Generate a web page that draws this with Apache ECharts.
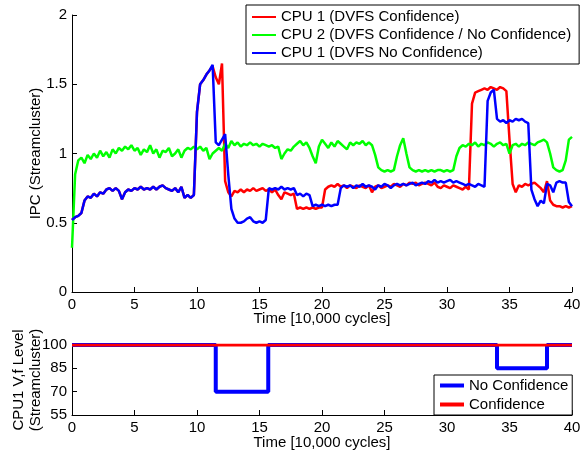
<!DOCTYPE html>
<html>
<head>
<meta charset="utf-8">
<script src="https://cdn.jsdelivr.net/npm/echarts@6/dist/echarts.min.js"></script>
<style>
  html, body { margin: 0; padding: 0; background: #fff; }
  #chart { width: 582px; height: 450px; }
</style>
</head>
<body>
<div id="chart"></div>
<script>
// sampling grid of the IPC traces: one value every 0.25 (x 10,000 cycles)
var times = [];
for (var i = 0; i <= 160; i++) {
    times.push(i / 4);
}

// IPC, CPU 1 with DVFS confidence (each row = one time unit)
var ipcCpu1Conf = [
    0.52, 0.54, 0.55, 0.57,
    0.66, 0.69, 0.68, 0.71,
    0.69, 0.72, 0.71, 0.74,
    0.75, 0.73, 0.75, 0.73,
    0.67, 0.72, 0.74, 0.73,
    0.75, 0.74, 0.76, 0.74,
    0.75, 0.74, 0.76, 0.74,
    0.76, 0.77, 0.75, 0.74,
    0.73, 0.75, 0.72, 0.76,
    0.68, 0.70, 0.68, 0.70,
    1.30, 1.50, 1.53, 1.57,
    1.60, 1.63, 1.55, 1.50,
    1.65, 0.80, 0.72, 0.69,
    0.73, 0.72, 0.74, 0.72,
    0.74, 0.73, 0.75, 0.73,
    0.74, 0.75, 0.73, 0.74,
    0.72, 0.74, 0.70, 0.67,
    0.72, 0.71, 0.70, 0.71,
    0.60, 0.61, 0.60, 0.61,
    0.60, 0.61, 0.60, 0.61,
    0.61, 0.74, 0.76, 0.77,
    0.76, 0.78, 0.76, 0.77,
    0.75, 0.77, 0.76, 0.75,
    0.77, 0.76, 0.75, 0.77,
    0.72, 0.76, 0.77, 0.75,
    0.76, 0.77, 0.76, 0.78,
    0.77, 0.76, 0.78, 0.77,
    0.79, 0.78, 0.79, 0.77,
    0.78, 0.79, 0.78, 0.77,
    0.79, 0.76, 0.75, 0.77,
    0.76, 0.75, 0.77, 0.76,
    0.75, 0.74, 0.76, 0.74,
    1.36, 1.44, 1.45, 1.46,
    1.47, 1.46, 1.48, 1.47,
    1.46, 1.48, 1.47, 1.45,
    1.10, 0.78, 0.72, 0.77,
    0.76, 0.78, 0.77, 0.78,
    0.79, 0.77, 0.75, 0.72,
    0.80, 0.66, 0.63, 0.62,
    0.62, 0.61, 0.62, 0.61,
    0.62
];

// IPC, CPU 2 (same in both runs)
var ipcCpu2 = [
    0.32, 0.85, 0.95, 0.97,
    0.93, 0.99, 0.96, 1.00,
    0.97, 1.02, 0.98, 1.01,
    0.97, 1.03, 1.00, 1.04,
    1.02, 1.05, 1.03, 1.06,
    1.02, 1.04, 0.99, 1.03,
    1.01, 1.06, 1.00, 1.03,
    0.97, 1.02, 1.01, 1.04,
    0.98, 1.00, 1.03, 0.97,
    1.02, 1.04, 1.03, 1.05,
    1.03, 1.05, 1.02, 1.04,
    0.96, 1.00, 1.02, 1.04,
    1.02, 1.07, 1.04, 1.09,
    1.06, 1.08, 1.05, 1.07,
    1.06, 1.08, 1.06, 1.07,
    1.05, 1.07, 1.06, 1.05,
    1.06, 1.04, 1.05, 0.96,
    1.00, 1.03, 1.02, 1.05,
    1.07, 1.09, 1.06, 1.08,
    1.04, 0.98, 0.93, 1.05,
    1.10, 1.07, 1.04, 1.08,
    1.05, 1.09, 1.07, 1.05,
    1.03, 1.08, 1.06, 1.08,
    1.07, 1.09, 1.06, 1.08,
    1.06, 0.99, 0.90, 0.88,
    0.87, 0.88, 0.87, 0.88,
    0.98, 1.06, 1.11, 1.00,
    0.90, 0.88, 0.87, 0.88,
    0.87, 0.88, 0.87, 0.88,
    0.87, 0.88, 0.88, 0.87,
    0.88, 0.87, 0.88, 0.98,
    1.04, 1.06, 1.05, 1.07,
    1.06, 1.08, 1.05, 1.07,
    1.06, 1.08, 1.07, 1.05,
    1.07, 1.08, 1.06, 1.07,
    1.00, 1.06, 1.07, 1.05,
    1.07, 1.06, 1.08, 1.07,
    1.06, 1.08, 1.09, 1.10,
    1.08, 1.00, 0.90, 0.88,
    0.87, 0.88, 0.95, 1.10,
    1.12
];

// IPC, CPU 1 without DVFS confidence
var ipcCpu1NoConf = [
    0.52, 0.54, 0.55, 0.57,
    0.66, 0.69, 0.68, 0.71,
    0.69, 0.72, 0.71, 0.74,
    0.75, 0.73, 0.75, 0.73,
    0.67, 0.72, 0.74, 0.73,
    0.75, 0.74, 0.76, 0.74,
    0.75, 0.74, 0.76, 0.74,
    0.76, 0.77, 0.75, 0.74,
    0.73, 0.75, 0.72, 0.76,
    0.68, 0.70, 0.68, 0.70,
    1.30, 1.50, 1.53, 1.57,
    1.60, 1.64, 1.08, 1.06,
    1.10, 1.14, 0.85, 0.60,
    0.53, 0.50, 0.50, 0.51,
    0.53, 0.54, 0.51, 0.50,
    0.51, 0.50, 0.52, 0.75,
    0.74, 0.75, 0.74, 0.76,
    0.74, 0.75, 0.74, 0.75,
    0.70, 0.71, 0.69, 0.71,
    0.70, 0.62, 0.63, 0.62,
    0.63, 0.62, 0.63, 0.62,
    0.63, 0.63, 0.75, 0.77,
    0.76, 0.77, 0.75, 0.77,
    0.76, 0.78, 0.76, 0.77,
    0.76, 0.74, 0.77, 0.76,
    0.78, 0.77, 0.75, 0.77,
    0.78, 0.77, 0.78, 0.77,
    0.78, 0.79, 0.77, 0.78,
    0.79, 0.78, 0.80, 0.79,
    0.81, 0.79, 0.80, 0.79,
    0.80, 0.81, 0.79, 0.80,
    0.79, 0.78, 0.77, 0.78,
    0.77, 0.76, 0.78, 0.77,
    0.76, 1.38, 1.44, 1.46,
    1.25, 1.23, 1.24, 1.22,
    1.24, 1.23, 1.25, 1.24,
    1.25, 1.23, 1.22, 0.74,
    0.67, 0.62, 0.66, 0.64,
    0.78, 0.77, 0.72, 0.79,
    0.80, 0.79, 0.79, 0.65,
    0.62
];

// CPU1 V,f level: change points and the level held from each one
var levelNoConfT = [0, 11.5, 15.7, 34, 38, 40];
var levelNoConf = [100, 70, 100, 85, 100, 100];
var levelConfT = [0, 40];
var levelConf = [100, 100];

var topNames = ['CPU 1 (DVFS Confidence)', 'CPU 2 (DVFS Confidence / No Confidence)', 'CPU 1 (DVFS No Confidence)'];
var bottomNames = ['No Confidence', 'Confidence'];
var xTicks = [0, 5, 10, 15, 20, 25, 30, 35, 40];
var levelTicks = [55, 70, 85, 100];

var font = '"Liberation Sans", Arial, Helvetica, sans-serif';

function pairs(xs, ys) {
    var out = [];
    for (var i = 0; i < ys.length; i++) {
        out.push([xs[i], ys[i]]);
    }
    return out;
}

function xAxisOf(grid, gap) {
    return {
        gridIndex: grid,
        type: 'value',
        min: 0,
        max: 40,
        interval: 5,
        name: 'Time [10,000 cycles]',
        nameLocation: 'middle',
        nameGap: gap,
        nameMoveOverlap: false,
        nameTextStyle: {fontSize: 15, color: '#000', fontFamily: font},
        axisLine: {onZero: false, lineStyle: {color: '#000', width: 1}},
        axisTick: {inside: true, length: 5, customValues: xTicks, lineStyle: {color: '#000'}},
        axisLabel: {fontSize: 15, color: '#000', margin: 5, fontFamily: font, customValues: xTicks},
        splitLine: {show: false}
    };
}

function lineSeries(name, color, data, width, xi) {
    return {
        name: name,
        type: 'line',
        xAxisIndex: xi,
        yAxisIndex: xi,
        data: data,
        symbol: 'none',
        showSymbol: false,
        lineStyle: {color: color, width: width},
        itemStyle: {color: color},
        emphasis: {disabled: true}
    };
}

var myChart = echarts.init(document.getElementById('chart'));

var option = {
    animation: false,
    textStyle: {fontFamily: font, color: '#000'},
    grid: [
        {left: 72, top: 15, width: 500, height: 277, containLabel: false, outerBoundsMode: 'none'},
        {left: 72, top: 345, width: 500, height: 70, containLabel: false, outerBoundsMode: 'none'}
    ],
    xAxis: [xAxisOf(0, 19), xAxisOf(1, 20)],
    yAxis: [{
        gridIndex: 0,
        type: 'value',
        min: 0,
        max: 2,
        interval: 0.5,
        name: 'IPC (Streamcluster)',
        nameLocation: 'middle',
        nameRotate: 90,
        nameGap: 29,
        nameMoveOverlap: false,
        nameTextStyle: {fontSize: 15, color: '#000', fontFamily: font},
        axisLine: {show: true, onZero: false, lineStyle: {color: '#000', width: 1}},
        axisTick: {show: true, inside: true, length: 5, lineStyle: {color: '#000'}},
        axisLabel: {fontSize: 15, color: '#000', margin: 5, fontFamily: font},
        splitLine: {show: false}
    }, {
        gridIndex: 1,
        type: 'value',
        min: 55,
        max: 100,
        name: 'CPU1 V,f Level\n(Streamcluster)',
        nameLocation: 'middle',
        nameRotate: 90,
        nameGap: 28,
        nameMoveOverlap: false,
        nameTextStyle: {fontSize: 15, color: '#000', fontFamily: font, lineHeight: 17},
        axisLine: {show: true, onZero: false, lineStyle: {color: '#000', width: 1}},
        axisTick: {show: true, inside: true, length: 5, customValues: levelTicks, lineStyle: {color: '#000'}},
        axisLabel: {fontSize: 15, color: '#000', margin: 5, fontFamily: font, customValues: levelTicks},
        splitLine: {show: false}
    }],
    legend: [{
        data: topNames,
        orient: 'vertical',
        left: 246,
        top: 5,
        padding: [3, 8, 2, 6],
        itemGap: 0,
        itemWidth: 24,
        itemHeight: 2,
        icon: 'rect',
        borderColor: '#000',
        borderWidth: 1,
        borderRadius: 0,
        backgroundColor: '#fff',
        selectedMode: false,
        textStyle: {fontSize: 15, color: '#000', fontFamily: font, lineHeight: 18}
    }, {
        data: bottomNames,
        orient: 'vertical',
        left: 434,
        top: 375,
        padding: [1, 4, 1, 6],
        itemGap: 0,
        itemWidth: 24,
        itemHeight: 4,
        icon: 'rect',
        borderColor: '#000',
        borderWidth: 1,
        borderRadius: 0,
        backgroundColor: '#fff',
        selectedMode: false,
        textStyle: {fontSize: 15, color: '#000', fontFamily: font, lineHeight: 19}
    }],
    series: [
        lineSeries(topNames[0], '#ff0000', pairs(times, ipcCpu1Conf), 2.5, 0),
        lineSeries(topNames[1], '#00ff00', pairs(times, ipcCpu2), 2.5, 0),
        lineSeries(topNames[2], '#0000ff', pairs(times, ipcCpu1NoConf), 2.5, 0),
        Object.assign(lineSeries(bottomNames[0], '#0000ff', pairs(levelNoConfT, levelNoConf), 4, 1), {step: 'end'}),
        lineSeries(bottomNames[1], '#ff0000', pairs(levelConfT, levelConf), 3, 1)
    ]
};
myChart.setOption(option);
</script>
</body>
</html>
